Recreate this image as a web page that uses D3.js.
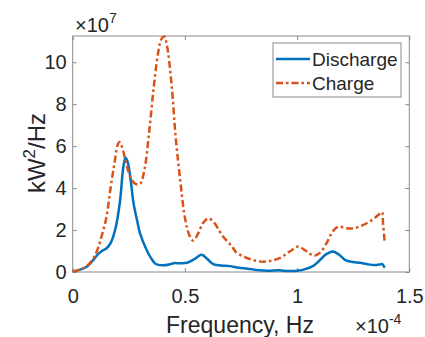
<!DOCTYPE html>
<html><head><meta charset="utf-8">
<script src="https://cdn.jsdelivr.net/npm/d3@7"></script>
<style>
body{margin:0;background:#fff;}
text{font-family:"Liberation Sans",Arial,Helvetica,sans-serif;fill:#262626;}
</style></head>
<body><svg id="c" width="425" height="337"></svg>
<script>
// frequency in units of 1e-4 Hz, power in units of 1e7 kW^2/Hz
const dischargeX = [0,0.03,0.06,0.09,0.11,0.13,0.15,0.17,0.19,0.21,0.225,0.235,0.245,0.26,0.27,0.29,0.30,0.33,0.35,0.37,0.40,0.43,0.45,0.48,0.51,0.54,0.575,0.60,0.62,0.64,0.67,0.70,0.74,0.78,0.82,0.87,0.92,0.96,1.00,1.04,1.07,1.10,1.13,1.16,1.19,1.215,1.25,1.28,1.31,1.34,1.37,1.38,1.39];
const dischargeY = [0.03,0.10,0.24,0.55,0.82,1.00,1.12,1.40,2.05,3.30,4.95,5.45,5.25,4.25,3.35,2.30,1.84,1.04,0.65,0.38,0.32,0.36,0.42,0.42,0.44,0.60,0.82,0.62,0.42,0.33,0.30,0.28,0.20,0.16,0.10,0.06,0.08,0.05,0.06,0.15,0.28,0.55,0.85,0.98,0.80,0.57,0.48,0.44,0.38,0.33,0.36,0.38,0.20];
const chargeX = [0,0.03,0.06,0.09,0.11,0.13,0.15,0.17,0.185,0.20,0.208,0.22,0.24,0.26,0.28,0.30,0.32,0.34,0.36,0.38,0.395,0.408,0.42,0.44,0.46,0.48,0.50,0.52,0.537,0.56,0.58,0.605,0.63,0.67,0.71,0.73,0.77,0.81,0.85,0.89,0.93,0.97,1.005,1.04,1.075,1.10,1.13,1.16,1.185,1.22,1.25,1.29,1.33,1.36,1.378,1.383,1.39];
const chargeY = [0.02,0.10,0.26,0.62,1.05,1.75,2.60,4.10,5.10,6.05,6.20,5.95,5.10,4.45,4.20,4.20,4.90,6.60,8.70,10.40,11.10,11.23,10.80,9.00,6.30,4.30,2.60,1.75,1.50,1.85,2.32,2.56,2.35,1.69,1.21,0.92,0.70,0.55,0.49,0.55,0.70,1.00,1.21,1.00,0.78,0.90,1.35,1.95,2.16,2.08,2.08,2.22,2.45,2.70,2.85,2.30,1.45];
const xTicks = [0,0.5,1,1.5];
const xTickLabels = ["0","0.5","1","1.5"];
const yTicks = [0,2,4,6,8,10];
const seriesNames = ["Discharge","Charge"];
const seriesColors = ["#0072BD","#D95319"];

const svg = d3.select("#c");
const L=72.7, R=409.3, T=36, B=272;
const x = d3.scaleLinear().domain([0,1.5]).range([L,R]);
const y = d3.scaleLinear().domain([0,11.25]).range([B,T]);
const axisColor="#8a8a8a";

svg.append("rect").attr("x",L).attr("y",T).attr("width",R-L).attr("height",B-T)
  .attr("fill","none").attr("stroke",axisColor).attr("stroke-width",1);

function styleAxis(g, showText){
  g.select(".domain").remove();
  g.selectAll(".tick line").attr("stroke",axisColor);
  g.selectAll(".tick text").attr("font-size","20px").attr("fill","#262626")
    .style("display", showText ? null : "none");
}
const fmt = d => xTickLabels[xTicks.indexOf(d)];
svg.append("g").attr("transform",`translate(0,${B})`)
  .call(d3.axisBottom(x).tickValues(xTicks).tickFormat(fmt).tickSize(-4).tickPadding(17))
  .call(g=>styleAxis(g,true));
svg.append("g").attr("transform",`translate(0,${T})`)
  .call(d3.axisTop(x).tickValues(xTicks).tickSize(-4))
  .call(g=>styleAxis(g,false));
svg.append("g").attr("transform",`translate(${L},0)`)
  .call(d3.axisLeft(y).tickValues(yTicks).tickFormat(d3.format("d")).tickSize(-4).tickPadding(6))
  .call(g=>styleAxis(g,true));
svg.append("g").attr("transform",`translate(${R},0)`)
  .call(d3.axisRight(y).tickValues(yTicks).tickSize(-4))
  .call(g=>styleAxis(g,false));

const line = d3.line().x(d=>x(d[0])).y(d=>y(d[1])).curve(d3.curveCatmullRom.alpha(0.5));
const dData = dischargeX.map((v,i)=>[v,dischargeY[i]]);
const cData = chargeX.map((v,i)=>[v,chargeY[i]]);
const g = svg.append("g");
g.append("path").datum(dData).attr("d",line).attr("fill","none")
  .attr("stroke",seriesColors[0]).attr("stroke-width",2.5).attr("stroke-linejoin","round");
g.append("path").datum(cData).attr("d",line).attr("fill","none")
  .attr("stroke",seriesColors[1]).attr("stroke-width",2.5).attr("stroke-dasharray","7,3,2.5,3");

const e1 = svg.append("text").attr("x",75).attr("y",32).attr("font-size","20px");
e1.append("tspan").text("×10");
e1.append("tspan").attr("font-size","14px").attr("dy",-9).text("7");
const e2 = svg.append("text").attr("x",355).attr("y",333).attr("font-size","20px");
e2.append("tspan").text("×10");
e2.append("tspan").attr("font-size","14px").attr("dy",-9).text("-4");

svg.append("text").attr("x",240).attr("y",333).attr("text-anchor","middle")
  .attr("font-size","23px").text("Frequency, Hz");
const yl = svg.append("text").attr("transform","translate(45,153) rotate(-90)")
  .attr("text-anchor","middle").attr("font-size","24px");
yl.append("tspan").text("kW");
yl.append("tspan").attr("font-size","17px").attr("dy",-10).text("2");
yl.append("tspan").attr("dy",10).text("/Hz");

const lg = svg.append("g");
lg.append("rect").attr("x",273).attr("y",43).attr("width",128).attr("height",54)
  .attr("fill","#fff").attr("stroke",axisColor).attr("stroke-width",1);
const ly = [59,83];
seriesNames.forEach((n,i)=>{
  lg.append("line").attr("x1",276).attr("x2",310).attr("y1",ly[i]).attr("y2",ly[i])
    .attr("stroke",seriesColors[i]).attr("stroke-width",2.5)
    .attr("stroke-dasharray", i===1 ? "7,3,2.5,3" : null);
  lg.append("text").attr("x",312).attr("y",ly[i]+7).attr("font-size","19px").text(n);
});
</script></body></html>
